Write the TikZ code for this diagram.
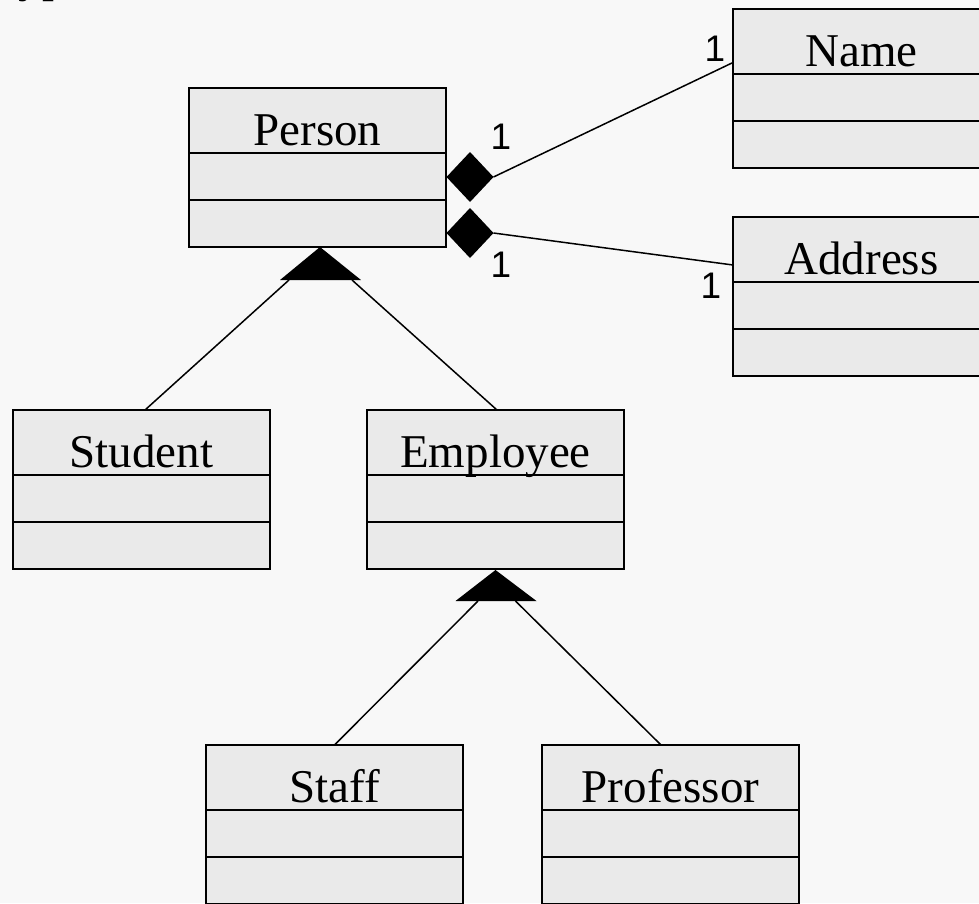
\documentclass[tikz,border=0pt]{standalone}
\usepackage{fontspec}
\setmainfont{Liberation Serif}
\newfontfamily\lblfont{Liberation Sans}
\usetikzlibrary{shapes.geometric}
\definecolor{bg}{HTML}{F8F8F8}
\definecolor{boxfill}{HTML}{EAEAEA}
\tikzset{
  classbox/.style={rectangle, draw=black, line width=2pt, fill=boxfill,
    minimum width=257pt, minimum height=159pt, inner sep=0pt, outer sep=0pt},
  boxline/.style={line width=2pt},
  titletext/.style={anchor=base, inner sep=0pt, font=\fontsize{47}{56}\selectfont},
  conn/.style={line width=1.5pt},
  diam/.style={diamond, fill=black, minimum width=47pt, minimum height=50pt, inner sep=0pt, outer sep=0pt},
  mult/.style={inner sep=0pt, font=\lblfont\fontsize{37}{44}\selectfont},
  genarrow/.style={fill=black}
}
\newcommand\umlclass[4]{%
  \node[classbox] (#1) at (#2+128.5, #3+79.5) {};
  \draw[boxline] (#2, #3+65) -- (#2+257, #3+65);
  \draw[boxline] (#2, #3+112) -- (#2+257, #3+112);
  \node[titletext] (#1-title) at (#2+128.5, #3+57) {#4};
}
\begin{document}
\begin{tikzpicture}[x=1pt,y=-1pt]
\useasboundingbox (0,0) rectangle (979,903);
\fill[bg] (0,0) rectangle (979,903);
\clip (0,0) rectangle (979,903);

% cut-off title fragment
\node[anchor=base west, inner sep=0pt, font=\fontsize{48}{58}\selectfont] (titlefrag) at (18,-9) {yp};

% classes
\umlclass{person}{189}{88}{Person}
\umlclass{name}{733}{9}{Name}
\umlclass{address}{733}{217}{Address}
\umlclass{student}{13}{410}{Student}
\umlclass{employee}{367}{410}{Employee}
\umlclass{staff}{206}{745}{Staff}
\umlclass{professor}{542}{745}{Professor}

% generalization Person
\coordinate (tp) at ([xshift=2.5]person.south);
\fill[genarrow] (tp) -- ++(41,33) -- ++(-81,0) -- cycle;
\coordinate (tpl) at ([xshift=-31,yshift=-33]tp);
\coordinate (tpr) at ([xshift=32,yshift=-33]tp);
\draw[conn] (tpl) -- ([xshift=3.5]student.north);
\draw[conn] (tpr) -- ([xshift=1.5]employee.north);

% generalization Employee
\coordinate (te) at ([yshift=-1]employee.south);
\fill[genarrow] (te) -- ++(41,31) -- ++(-81,0) -- cycle;
\coordinate (tel) at ([xshift=-17.5,yshift=-31]te);
\coordinate (ter) at ([xshift=20,yshift=-31]te);
\draw[conn] (tel) -- (staff.north);
\draw[conn] (ter) -- ([xshift=-9.5]professor.north);

% compositions
\node[diam] (dn) at (470,177) {};
\node[diam] (da) at (470,233) {};
\draw[conn] (dn.east) -- ([yshift=26]name.west);
\draw[conn] (da.east) -- ([yshift=31.5]address.west);

% multiplicities
\node[mult] (m1) at (501,137) {1};
\node[mult] (m2) at (501,265) {1};
\node[mult] (m3) at (715,49) {1};
\node[mult] (m4) at (711,286) {1};
\end{tikzpicture}
\end{document}
